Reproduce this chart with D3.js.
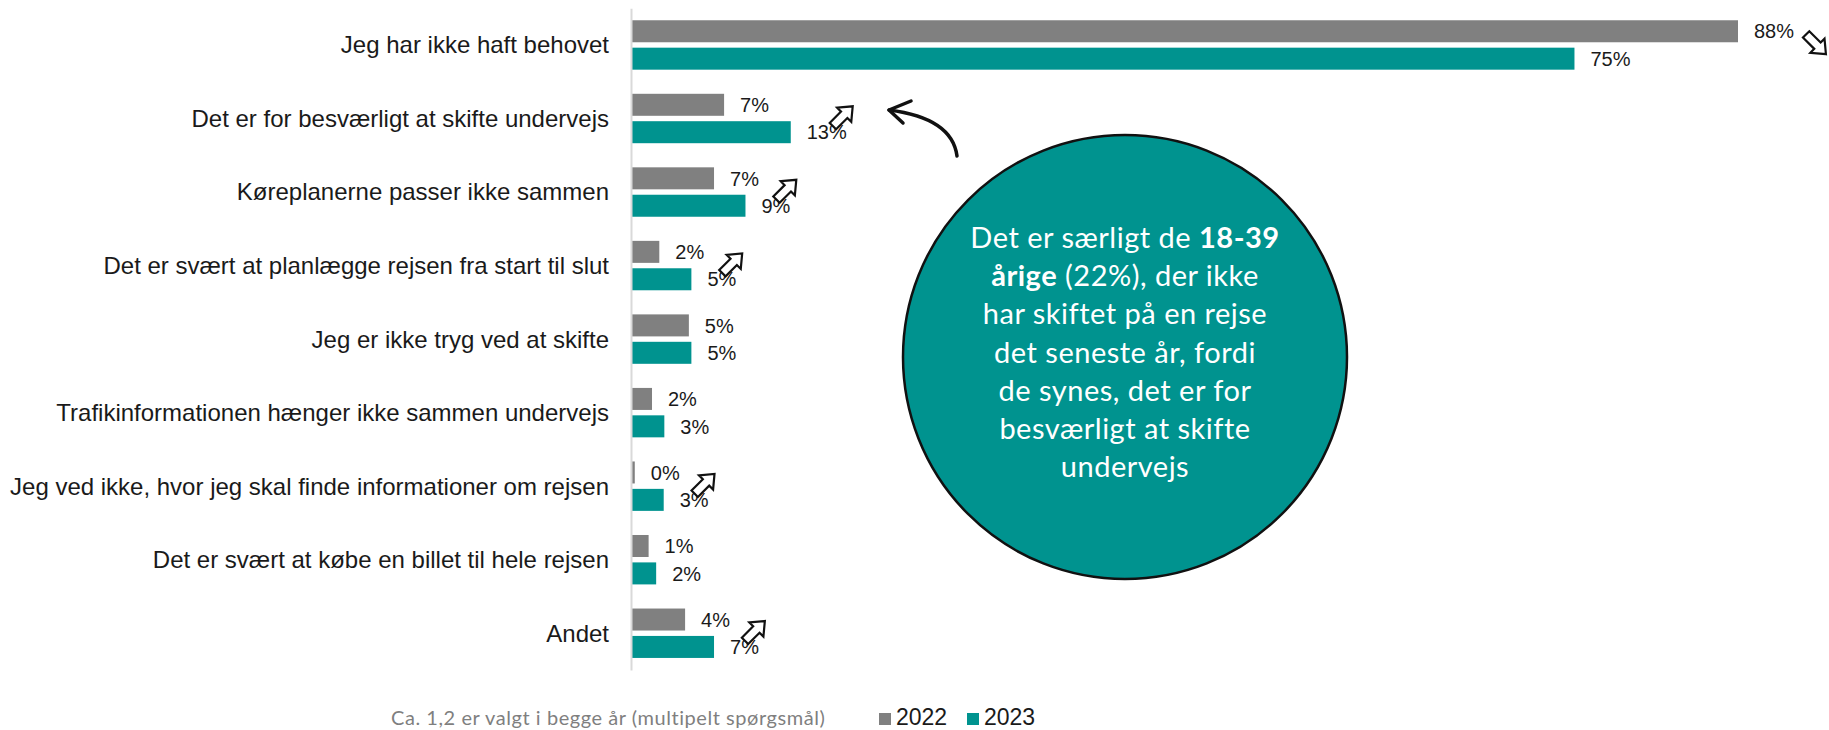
<!DOCTYPE html>
<html>
<head>
<meta charset="utf-8">
<script src="https://cdn.jsdelivr.net/npm/d3@7"></script>
<style>
  html, body { margin: 0; padding: 0; background: #fff; }
  svg { display: block; }
</style>
</head>
<body>
<svg id="chart" width="1829" height="730"></svg>
<script>
// ---- data ----
const categories = [
  "Jeg har ikke haft behovet",
  "Det er for besværligt at skifte undervejs",
  "Køreplanerne passer ikke sammen",
  "Det er svært at planlægge rejsen fra start til slut",
  "Jeg er ikke tryg ved at skifte",
  "Trafikinformationen hænger ikke sammen undervejs",
  "Jeg ved ikke, hvor jeg skal finde informationer om rejsen",
  "Det er svært at købe en billet til hele rejsen",
  "Andet"
];
const seriesNames = ["2022", "2023"];
const values2022 = [88, 7.4, 6.6, 2.25, 4.6, 1.67, 0.3, 1.4, 4.3];
const values2023 = [75, 12.7, 9.1, 4.8, 4.8, 2.65, 2.6, 2.0, 6.6];
const labels2022 = ["88%", "7%", "7%", "2%", "5%", "2%", "0%", "1%", "4%"];
const labels2023 = ["75%", "13%", "9%", "5%", "5%", "3%", "3%", "2%", "7%"];
const trends = ["down", "up", "up", "up", null, null, "up", null, "up"];
const calloutLines = [
  [["Det er særligt de ", false], ["18-39", true]],
  [["årige", true], [" (22%), der ikke", false]],
  [["har skiftet på en rejse", false]],
  [["det seneste år, fordi", false]],
  [["de synes, det er for", false]],
  [["besværligt at skifte", false]],
  [["undervejs", false]]
];
const footnote = "Ca. 1,2 er valgt i begge år (multipelt spørgsmål)";

// ---- styles ----
const colors = { "2022": "#808080", "2023": "#00938f" };
const svg = d3.select("#chart");

const x = d3.scaleLinear().domain([0, 88]).range([631, 1738]);
const y0 = d3.scaleBand().domain(categories).range([8.2, 670]).paddingInner(0).paddingOuter(0);
const y1 = d3.scaleBand().domain(seriesNames).range([0, y0.bandwidth()]).paddingInner(0.197).paddingOuter(0.44);

const rows = categories.map((c, i) => ({
  cat: c, i,
  vals: [
    { s: "2022", v: values2022[i], label: labels2022[i] },
    { s: "2023", v: values2023[i], label: labels2023[i] }
  ],
  trend: trends[i]
}));

// bars
const groups = svg.append("g").selectAll("g.row").data(rows).join("g")
  .attr("class", "row")
  .attr("transform", d => `translate(0,${y0(d.cat)})`);

groups.selectAll("rect").data(d => d.vals).join("rect")
  .attr("x", x(0))
  .attr("y", d => y1(d.s))
  .attr("width", d => Math.max(0, x(d.v) - x(0)))
  .attr("height", y1.bandwidth())
  .attr("fill", d => colors[d.s]);

const labelFont = "'Liberation Sans', Arial, sans-serif";
groups.selectAll("text.val").data(d => d.vals).join("text")
  .attr("class", "val")
  .attr("x", d => x(d.v) + 16)
  .attr("y", d => y1(d.s) + y1.bandwidth() / 2)
  .attr("dy", "0.36em")
  .attr("font-family", labelFont)
  .attr("font-size", 20)
  .attr("fill", "#1a1a1a")
  .text(d => d.label);

// axis
const axis = d3.axisLeft(y0).tickSize(0).tickSizeOuter(0).tickPadding(22);
const ax = svg.append("g").attr("transform", `translate(${x(0)},0)`).call(axis);
ax.select(".domain").attr("stroke", "#d9d9d9").attr("stroke-width", 2);
ax.selectAll(".tick text")
  .attr("font-family", labelFont)
  .attr("font-size", 24)
  .attr("fill", "#1a1a1a")
  .attr("dy", "0.35em");

// trend arrows (hollow block arrows)
const arrowPath = "M0,-14 L10,-2 L4.5,-2 L4.5,14 L-4.5,14 L-4.5,-2 L-10,-2 Z";
groups.each(function(d) {
  if (!d.trend) return;
  const g = d3.select(this);
  const texts = g.selectAll("text.val").nodes();
  let ax_, ay_, rot;
  if (d.trend === "up") {
    const t = texts[1];
    const endX = x(d.vals[1].v) + 16 + t.getComputedTextLength();
    ax_ = endX - 4;
    ay_ = y1("2023") + y1.bandwidth() / 2 - 16;
    rot = 45;
  } else {
    const t = texts[0];
    const endX = x(d.vals[0].v) + 16 + t.getComputedTextLength();
    ax_ = endX + 22;
    ay_ = y1("2022") + y1.bandwidth() / 2 + 13;
    rot = 135;
  }
  g.append("path")
    .attr("d", arrowPath)
    .attr("transform", `translate(${ax_},${ay_}) rotate(${rot})`)
    .attr("fill", "#fff")
    .attr("stroke", "#111")
    .attr("stroke-width", 2.2)
    .attr("stroke-linejoin", "miter");
});

// callout circle
const cx = 1125, cy = 357, r = 222;
svg.append("circle").attr("cx", cx).attr("cy", cy).attr("r", r)
  .attr("fill", "#00938f").attr("stroke", "#111").attr("stroke-width", 2.5);

const calloutFont = "Lato, 'Open Sans', sans-serif";
const ct = svg.append("text")
  .attr("text-anchor", "middle")
  .attr("font-family", calloutFont)
  .attr("font-size", 29)
  .attr("letter-spacing", 0.5)
  .attr("fill", "#fff");
calloutLines.forEach((line, li) => {
  line.forEach((seg, si) => {
    const ts = ct.append("tspan").text(seg[0]).attr("font-weight", seg[1] ? 700 : 400);
    if (si === 0) ts.attr("x", cx).attr("y", cy - 109 + li * 38.2);
  });
});

// curved pointer arrow
svg.append("path")
  .attr("d", "M957,156 Q952,118 889,110")
  .attr("fill", "none").attr("stroke", "#111").attr("stroke-width", 3.5).attr("stroke-linecap", "round");
svg.append("path")
  .attr("d", "M911,101 L889,110 L903,123")
  .attr("fill", "none").attr("stroke", "#111").attr("stroke-width", 3.5)
  .attr("stroke-linecap", "round").attr("stroke-linejoin", "round");

// footnote
svg.append("text")
  .attr("x", 391).attr("y", 725)
  .attr("font-family", calloutFont)
  .attr("font-size", 20)
  .attr("letter-spacing", 0.55)
  .attr("fill", "#7f7f7f")
  .text(footnote);

// legend
const lg = svg.append("g");
const legendX = [879, 967];
seriesNames.forEach((s, i) => {
  lg.append("rect").attr("x", legendX[i]).attr("y", 713).attr("width", 12).attr("height", 12).attr("fill", colors[s]);
  lg.append("text").attr("x", legendX[i] + 17).attr("y", 725)
    .attr("font-family", labelFont).attr("font-size", 23).attr("fill", "#1a1a1a").text(s);
});
</script>
</body>
</html>
